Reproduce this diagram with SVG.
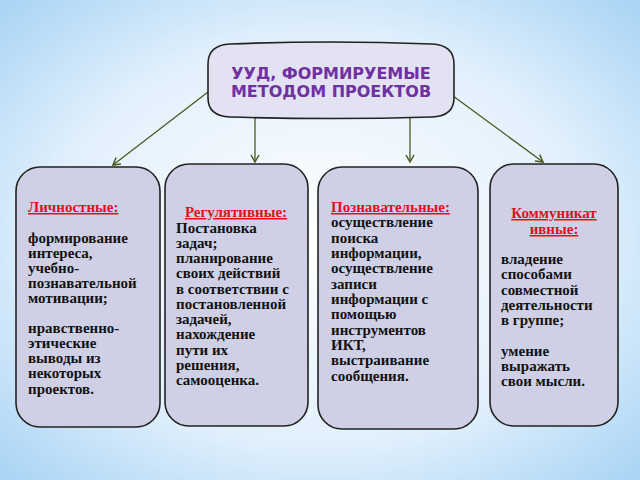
<svg xmlns="http://www.w3.org/2000/svg" width="640" height="480" viewBox="0 0 640 480">
<defs>
<radialGradient id="bg" cx="50%" cy="50%" r="70%">
<stop offset="0" stop-color="#ffffff"/><stop offset="0.6" stop-color="#e2f0fc"/><stop offset="1" stop-color="#a9d4f5"/>
</radialGradient>
<marker id="ar" markerWidth="10" markerHeight="10" refX="8" refY="5" orient="auto" markerUnits="userSpaceOnUse">
<path d="M1,1 L8,5 L1,9" fill="none" stroke="#4a5a20" stroke-width="1.5"/>
</marker>
<style>
.box{fill:#cfd0e6;stroke:#222;stroke-width:1.6}
.t{font-family:"Liberation Serif",serif;font-weight:bold;font-size:15px;fill:#111}
.h{fill:#e0101a;text-decoration:underline}
.c{stroke:#4a5a20;stroke-width:1.3;fill:none;marker-end:url(#ar)}
.ti{font-family:"DejaVu Sans","Liberation Sans",sans-serif;font-weight:bold;font-size:16px;fill:#7030a0;text-anchor:middle}
</style>
</defs>
<rect width="640" height="480" fill="url(#bg)"/>
<g id="connectors">
<line class="c" x1="208" y1="92" x2="113" y2="165"/>
<line class="c" x1="255" y1="117" x2="255" y2="162"/>
<line class="c" x1="410" y1="117" x2="410" y2="162"/>
<line class="c" x1="453" y1="96" x2="543" y2="162"/>
</g>
<g id="root">
<path class="box" d="M230,44 Q330,40 432,44 Q454,45 454,64 L454,98 Q454,116 432,117 Q330,120 230,117 Q208,116 208,98 L208,64 Q208,45 230,44Z" style="fill:#e2e2f2"/>
<text class="ti" x="331" y="79">УУД, ФОРМИРУЕМЫЕ</text>
<text class="ti" x="331" y="97">МЕТОДОМ ПРОЕКТОВ</text>
</g>
<g id="n1">
<rect class="box" x="16" y="167" width="144" height="260" rx="24"/>
<text class="t" x="28" y="212"><tspan class="h">Личностные:</tspan>
<tspan x="28" y="243">формирование</tspan><tspan x="28" y="258">интереса,</tspan><tspan x="28" y="273">учебно-</tspan><tspan x="28" y="288">познавательной</tspan><tspan x="28" y="303">мотивации;</tspan><tspan x="28" y="333">нравственно-</tspan><tspan x="28" y="348">этические</tspan><tspan x="28" y="363">выводы из</tspan><tspan x="28" y="378">некоторых</tspan><tspan x="28" y="394">проектов.</tspan></text>
</g>
<g id="n2">
<rect class="box" x="165" y="164" width="143" height="262" rx="24"/>
<text class="t" x="236" y="217" text-anchor="middle"><tspan class="h">Регулятивные:</tspan></text>
<text class="t"><tspan x="176" y="233">Постановка</tspan><tspan x="176" y="248">задач;</tspan><tspan x="176" y="263">планирование</tspan><tspan x="176" y="278">своих действий</tspan><tspan x="176" y="294">в соответствии с</tspan><tspan x="176" y="309">постановленной</tspan><tspan x="176" y="324">задачей,</tspan><tspan x="176" y="339">нахождение</tspan><tspan x="176" y="355">пути их</tspan><tspan x="176" y="370">решения,</tspan><tspan x="176" y="385">самооценка.</tspan></text>
</g>
<g id="n3">
<rect class="box" x="318" y="167" width="160" height="262" rx="24"/>
<text class="t"><tspan x="331" y="212" class="h">Познавательные:</tspan><tspan x="331" y="227">осуществление</tspan><tspan x="331" y="243">поиска</tspan><tspan x="331" y="258">информации,</tspan><tspan x="331" y="273">осуществление</tspan><tspan x="331" y="289">записи</tspan><tspan x="331" y="304">информации с</tspan><tspan x="331" y="319">помощью</tspan><tspan x="331" y="335">инструментов</tspan><tspan x="331" y="350">ИКТ,</tspan><tspan x="331" y="365">выстраивание</tspan><tspan x="331" y="381">сообщения.</tspan></text>
</g>
<g id="n4">
<rect class="box" x="490" y="164" width="128" height="262" rx="24"/>
<text class="t" text-anchor="middle"><tspan class="h" x="554" y="218">Коммуникат</tspan><tspan class="h" x="554" y="234">ивные:</tspan></text>
<text class="t"><tspan x="501" y="264">владение</tspan><tspan x="501" y="279">способами</tspan><tspan x="501" y="295">совместной</tspan><tspan x="501" y="310">деятельности</tspan><tspan x="501" y="325">в группе;</tspan><tspan x="501" y="356">умение</tspan><tspan x="501" y="371">выражать</tspan><tspan x="501" y="386">свои мысли.</tspan></text>
</g>
</svg>
